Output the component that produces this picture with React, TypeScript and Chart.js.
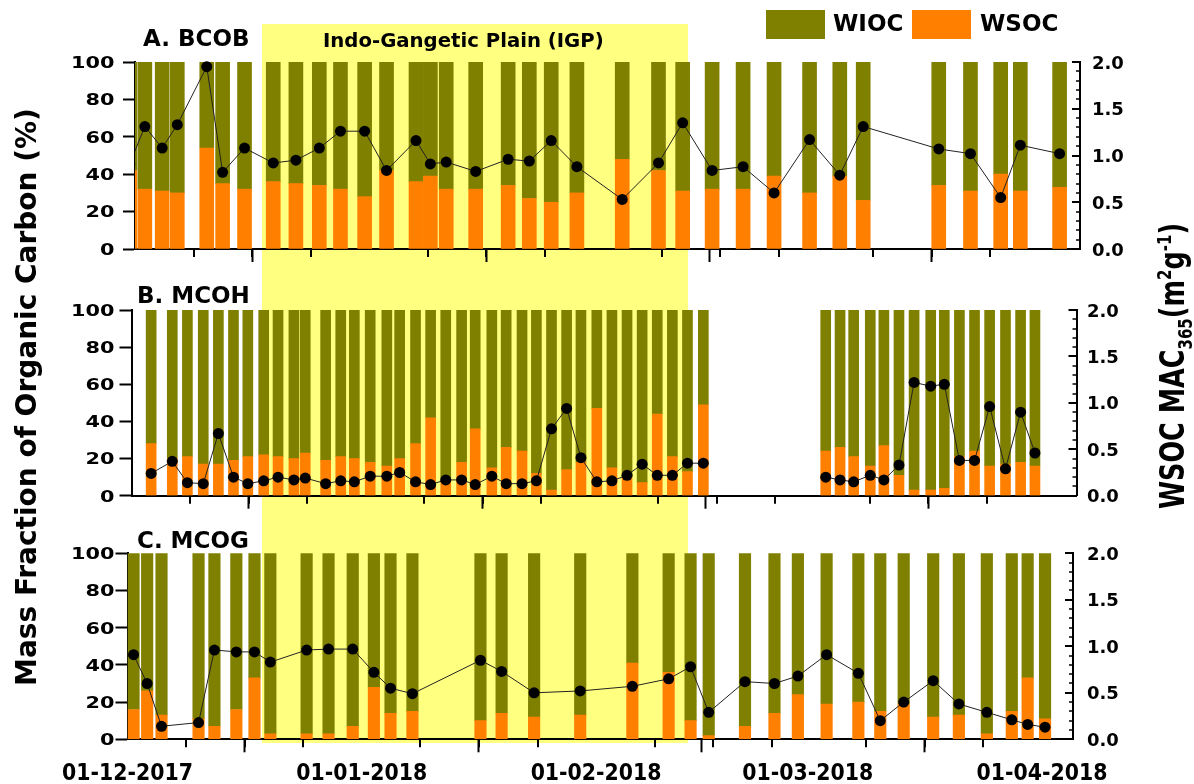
import React, { useEffect, useRef } from 'react';
import { Chart, registerables } from 'chart.js';

Chart.register(...registerables);

// ---------- tick labels / axis data ----------
const MONTH_DAYS = [0, 31, 62, 90, 121];
const MONTH_LABELS = ['01-12-2017', '01-01-2018', '01-02-2018', '01-03-2018', '01-04-2018'];
const X_MINOR_TICKS = [7.75, 15.5, 23.25, 38.75, 46.5, 54.25, 69.75, 77.5, 85.25, 97.75, 105.5, 113.25];
const X_MAX = 125.1;
const LEFT_TICKS = [0, 20, 40, 60, 80, 100];
const RIGHT_TICKS = [0, 0.5, 1.0, 1.5, 2.0];

// ---------- Panel A: BCOB (days since 01-12-2017) ----------
const A_DAY = [-0.7, 1.3, 3.6, 5.6, 9.5, 11.6, 14.5, 18.3, 21.3, 24.4, 27.2, 30.4, 33.3, 37.2, 39.1, 41.2, 45.1, 49.4, 52.2, 55.1, 58.5, 64.5, 69.3, 72.5, 76.4, 80.5, 84.6, 89.3, 93.3, 96.4, 106.4, 110.6, 114.6, 117.2, 122.4];
const A_WSOC = [42, 32, 31, 30, 54, 35, 32, 36, 35, 34, 32, 28, 42, 36, 39, 32, 32, 34, 27, 25, 30, 48, 42, 31, 32, 32, 39, 30, 39, 26, 34, 31, 40, 31, 33];
const A_WIOC = [58, 68, 69, 70, 46, 65, 68, 64, 65, 66, 68, 72, 58, 64, 61, 68, 68, 66, 73, 75, 70, 52, 58, 69, 68, 68, 61, 70, 61, 74, 66, 69, 60, 69, 67];
const A_MAC = [0.91, 1.31, 1.08, 1.33, 1.95, 0.82, 1.08, 0.92, 0.95, 1.08, 1.26, 1.26, 0.84, 1.16, 0.91, 0.93, 0.83, 0.96, 0.94, 1.16, 0.88, 0.53, 0.92, 1.35, 0.84, 0.88, 0.60, 1.17, 0.79, 1.31, 1.07, 1.02, 0.55, 1.11, 1.02];
const A_LINE_GAPS: number[] = [];

// ---------- Panel B: MCOH ----------
const B_DAY = [2.6, 5.4, 7.4, 9.5, 11.5, 13.5, 15.4, 17.5, 19.4, 21.5, 23.0, 25.7, 27.7, 29.5, 31.6, 33.8, 35.5, 37.6, 39.6, 41.6, 43.7, 45.5, 47.7, 49.6, 51.7, 53.6, 55.6, 57.6, 59.5, 61.6, 63.6, 65.6, 67.6, 69.6, 71.6, 73.6, 75.7, 91.9, 93.8, 95.6, 97.8, 99.6, 101.6, 103.6, 105.8, 107.6, 109.6, 111.6, 113.6, 115.7, 117.7, 119.6];
const B_WSOC = [28, 20, 21, 17, 17, 19, 21, 22, 21, 20, 23, 19, 21, 20, 18, 16, 20, 28, 42, 8, 18, 36, 15, 26, 24, 12, 3, 14, 18, 47, 15, 10, 7, 44, 21, 13, 49, 24, 26, 21, 16, 27, 11, 3, 3, 4, 21, 24, 16, 17, 18, 16];
const B_WIOC = [72, 80, 79, 83, 83, 81, 79, 78, 79, 80, 77, 81, 79, 80, 82, 84, 80, 72, 58, 92, 82, 64, 85, 74, 76, 88, 97, 86, 82, 53, 85, 90, 93, 56, 79, 87, 51, 76, 74, 79, 84, 73, 89, 97, 97, 96, 79, 76, 84, 83, 82, 84];
const B_MAC = [0.24, 0.37, 0.14, 0.13, 0.67, 0.20, 0.13, 0.16, 0.20, 0.17, 0.19, 0.13, 0.16, 0.15, 0.21, 0.21, 0.25, 0.15, 0.12, 0.17, 0.17, 0.12, 0.21, 0.13, 0.13, 0.16, 0.72, 0.94, 0.41, 0.15, 0.16, 0.22, 0.34, 0.22, 0.22, 0.35, 0.35, 0.20, 0.17, 0.15, 0.22, 0.17, 0.33, 1.22, 1.18, 1.20, 0.38, 0.38, 0.96, 0.29, 0.90, 0.46];
const B_LINE_GAPS = [37];

// ---------- Panel C: MCOG ----------
const C_DAY = [0.8, 2.6, 4.5, 9.4, 11.5, 14.4, 16.8, 18.9, 23.7, 26.6, 29.8, 32.6, 34.8, 37.7, 46.7, 49.5, 53.8, 59.9, 66.8, 71.6, 74.5, 76.9, 81.7, 85.6, 88.7, 92.5, 96.7, 99.6, 102.7, 106.6, 110.0, 113.7, 117.0, 119.1, 121.4];
const C_WSOC = [16, 26, 13, 11, 7, 16, 33, 3, 3, 3, 7, 28, 14, 15, 10, 14, 12, 13, 41, 36, 10, 2, 7, 14, 24, 19, 20, 15, 19, 12, 13, 3, 15, 33, 11];
const C_WIOC = [84, 74, 87, 89, 93, 84, 67, 97, 97, 97, 93, 72, 86, 85, 90, 86, 88, 87, 59, 64, 90, 98, 93, 86, 76, 81, 80, 85, 81, 88, 87, 97, 85, 67, 89];
const C_MAC = [0.91, 0.60, 0.14, 0.18, 0.96, 0.94, 0.94, 0.83, 0.96, 0.97, 0.97, 0.72, 0.55, 0.49, 0.85, 0.73, 0.50, 0.52, 0.57, 0.65, 0.78, 0.29, 0.62, 0.60, 0.68, 0.91, 0.71, 0.20, 0.40, 0.63, 0.38, 0.29, 0.21, 0.16, 0.13];
const C_LINE_GAPS: number[] = [];

// ---------- styles ----------
const OLIVE = '#808000';
const ORANGE = '#FF8000';
const YELLOW = '#FFFF80';
const FONT = "'DejaVu Sans', 'Liberation Sans', sans-serif";
const W = 1194;
const LEFT_FONT = 16;
const LEFT_STRETCH = 1.3;
const RIGHT_FONT = 18;
const X_FONT = 23;
const X_STRETCH = 0.89;

type Panel = {
  days: number[]; wsoc: number[]; wioc: number[]; mac: number[]; gaps: number[];
  left: number; right: number; canvasTop: number; canvasHeight: number;
  plotTop: number; plotBottom: number; barPx: number; showLabels: boolean;
  leftAnchor: number; rightAnchor: number;
};

const PANELS: Panel[] = [
  { days: A_DAY, wsoc: A_WSOC, wioc: A_WIOC, mac: A_MAC, gaps: A_LINE_GAPS, left: 135, right: 1080, canvasTop: 0, canvasHeight: 280, plotTop: 62, plotBottom: 249, barPx: 14, showLabels: false, leftAnchor: 114.5, rightAnchor: 1092 },
  { days: B_DAY, wsoc: B_WSOC, wioc: B_WIOC, mac: B_MAC, gaps: B_LINE_GAPS, left: 131.5, right: 1076.5, canvasTop: 280, canvasHeight: 250, plotTop: 310, plotBottom: 495.7, barPx: 10, showLabels: false, leftAnchor: 114.5, rightAnchor: 1087 },
  { days: C_DAY, wsoc: C_WSOC, wioc: C_WIOC, mac: C_MAC, gaps: C_LINE_GAPS, left: 127.5, right: 1073, canvasTop: 530, canvasHeight: 254, plotTop: 553.3, plotBottom: 739.3, barPx: 11.5, showLabels: true, leftAnchor: 114.5, rightAnchor: 1087 },
];

const tickPlugin = {
  id: 'customTicks',
  afterDraw(chart: any) {
    const ctx = chart.ctx;
    const xs = chart.scales.x;
    const y1 = chart.scales.y1;
    const a = chart.chartArea;
    ctx.save();
    ctx.strokeStyle = '#000';
    ctx.lineWidth = 2;
    for (const d of X_MINOR_TICKS) {
      const px = Math.round(xs.getPixelForValue(d));
      ctx.beginPath();
      ctx.moveTo(px, a.bottom);
      ctx.lineTo(px, a.bottom + 8);
      ctx.stroke();
    }
    for (let i = 0; i <= 20; i++) {
      const py = Math.round(y1.getPixelForValue(i / 10));
      const major = i % 5 === 0;
      ctx.lineWidth = major ? 2 : 1.5;
      ctx.beginPath();
      ctx.moveTo(a.right, py);
      ctx.lineTo(a.right - (major ? 8 : 4), py);
      ctx.stroke();
    }
    ctx.restore();
  },
};

const labelPlugin = {
  id: 'stretchLabels',
  afterDraw(chart: any, _args: any, o: any) {
    const ctx = chart.ctx;
    const a = chart.chartArea;
    const ys = chart.scales.y;
    const y1 = chart.scales.y1;
    const xs = chart.scales.x;
    const draw = (txt: string, x: number, yBase: number, size: number, sx: number, align: CanvasTextAlign) => {
      ctx.save();
      ctx.translate(x, yBase);
      ctx.scale(sx, 1);
      ctx.font = `bold ${size}px ${FONT}`;
      ctx.fillStyle = '#000';
      ctx.textAlign = align;
      ctx.textBaseline = 'alphabetic';
      ctx.fillText(txt, 0, 0);
      ctx.restore();
    };
    LEFT_TICKS.forEach((v) => draw(String(v), o.leftAnchor, ys.getPixelForValue(v) + (0.729 * LEFT_FONT) / 2, LEFT_FONT, LEFT_STRETCH, 'right'));
    RIGHT_TICKS.forEach((v) => draw(v.toFixed(1), o.rightAnchor, y1.getPixelForValue(v) + (0.729 * RIGHT_FONT) / 2, RIGHT_FONT, 1, 'left'));
    if (o.showX) {
      MONTH_DAYS.forEach((d, i) => draw(MONTH_LABELS[i], xs.getPixelForValue(d), a.bottom + 40.7, X_FONT, X_STRETCH, 'center'));
    }
  },
};

function PanelChart({ p }: { p: Panel }) {
  const ref = useRef<HTMLCanvasElement | null>(null);
  useEffect(() => {
    if (!ref.current) return;
    const bars = (vals: number[]) => p.days.map((d, i) => ({ x: d, y: vals[i] }));
    const line: { x: number; y: number | null }[] = [];
    p.days.forEach((d, i) => {
      if (p.gaps.includes(i)) line.push({ x: (p.days[i - 1] + d) / 2, y: null });
      line.push({ x: d, y: p.mac[i] });
    });
    const leftW = p.left;
    const rightW = W - p.right;
    const xH = p.canvasTop + p.canvasHeight - p.plotBottom;
    const chart = new Chart(ref.current, {
      type: 'bar',
      data: {
        datasets: [
          {
            type: 'line', label: 'WSOC MAC', data: line as any, yAxisID: 'y1', xAxisID: 'x',
            borderColor: '#222', borderWidth: 1, pointRadius: 5.5, pointHoverRadius: 5.5,
            pointBackgroundColor: '#000', pointBorderColor: '#000', pointBorderWidth: 0,
            spanGaps: false, tension: 0, order: 0, stack: 'mac',
            clip: { left: 0, top: 8, right: 8, bottom: 8 } as any,
          } as any,
          { label: 'WSOC', data: bars(p.wsoc) as any, backgroundColor: ORANGE, yAxisID: 'y', stack: 'oc', order: 1, barThickness: p.barPx, clip: 0 as any } as any,
          { label: 'WIOC', data: bars(p.wioc) as any, backgroundColor: OLIVE, yAxisID: 'y', stack: 'oc', order: 2, barThickness: p.barPx, clip: 0 as any } as any,
        ],
      },
      options: {
        responsive: false,
        animation: false,
        devicePixelRatio: 1,
        layout: { padding: { top: p.plotTop - p.canvasTop, left: 0, right: 0, bottom: 0 } },
        plugins: {
          legend: { display: false },
          tooltip: { enabled: false },
          stretchLabels: { leftAnchor: p.leftAnchor, rightAnchor: p.rightAnchor, showX: p.showLabels },
        },
        scales: {
          x: {
            type: 'linear', min: 0, max: X_MAX, stacked: true, offset: false,
            afterBuildTicks: (s: any) => { s.ticks = MONTH_DAYS.map((v) => ({ value: v })); },
            afterFit: (s: any) => { s.height = xH; },
            ticks: { display: false, autoSkip: false, maxRotation: 0, minRotation: 0 },
            grid: { drawOnChartArea: false, drawTicks: true, tickLength: 13, tickWidth: 2, tickColor: '#000' },
            border: { display: true, color: '#000', width: 2 },
          },
          y: {
            position: 'left', min: 0, max: 100, stacked: true,
            afterBuildTicks: (s: any) => { s.ticks = LEFT_TICKS.map((v) => ({ value: v })); },
            afterFit: (s: any) => { s.width = leftW; },
            ticks: { display: false },
            grid: { drawOnChartArea: false, drawTicks: true, tickLength: 12, tickWidth: 2, tickColor: '#000' },
            border: { display: true, color: '#000', width: 2 },
          },
          y1: {
            position: 'right', min: 0, max: 2, stacked: false,
            afterBuildTicks: (s: any) => { s.ticks = RIGHT_TICKS.map((v) => ({ value: v })); },
            afterFit: (s: any) => { s.width = rightW; },
            ticks: { display: false },
            grid: { drawOnChartArea: false, drawTicks: false },
            border: { display: true, color: '#000', width: 2 },
          },
        },
      } as any,
      plugins: [tickPlugin, labelPlugin],
    });
    return () => chart.destroy();
  }, [p]);
  return (
    <canvas
      ref={ref}
      width={W}
      height={p.canvasHeight}
      style={{ position: 'absolute', left: 0, top: p.canvasTop, width: W, height: p.canvasHeight }}
    />
  );
}

const textBase: React.CSSProperties = {
  position: 'absolute', fontFamily: FONT, fontWeight: 'bold', color: '#000', whiteSpace: 'nowrap',
};

export default function App() {
  return (
    <div style={{ position: 'absolute', left: 0, top: 0, width: W, height: 784, background: '#fff', overflow: 'hidden' }}>
      <div style={{ position: 'absolute', left: 262, top: 24, width: 426, height: 719, background: YELLOW }} />
      {PANELS.map((p, i) => <PanelChart key={i} p={p} />)}
      <div style={{ ...textBase, left: 143, top: 27.3, fontSize: 23, lineHeight: '23px' }}>A. BCOB</div>
      <div style={{ ...textBase, left: 137, top: 284, fontSize: 23, lineHeight: '23px' }}>B. MCOH</div>
      <div style={{ ...textBase, left: 137, top: 529, fontSize: 23, lineHeight: '23px' }}>C. MCOG</div>
      <div style={{ ...textBase, left: 323, top: 30.7, fontSize: 19.7, lineHeight: '19.7px' }}>Indo-Gangetic Plain (IGP)</div>
      <div style={{ position: 'absolute', left: 766, top: 10, width: 59, height: 29, background: OLIVE }} />
      <div style={{ ...textBase, left: 833, top: 12.3, fontSize: 23, lineHeight: '23px' }}>WIOC</div>
      <div style={{ position: 'absolute', left: 912, top: 10, width: 59, height: 29, background: ORANGE }} />
      <div style={{ ...textBase, left: 980, top: 12.3, fontSize: 23, lineHeight: '23px' }}>WSOC</div>
      <div style={{ ...textBase, left: 27 - 350, top: 397 - 20, width: 700, height: 40, lineHeight: '40px', textAlign: 'center', fontSize: 28, transform: 'rotate(-90deg)' }}>
        Mass Fraction of Organic Carbon (%)
      </div>
      <div style={{ ...textBase, left: 1172 - 200, top: 366 - 20, width: 400, height: 40, lineHeight: '40px', textAlign: 'center', fontSize: 25.5, transform: 'rotate(-90deg) scaleY(1.3)' }}>
        WSOC MAC<sub style={{ fontSize: 15, lineHeight: 0 }}>365</sub>(m<sup style={{ fontSize: 15, lineHeight: 0 }}>2</sup>g<sup style={{ fontSize: 15, lineHeight: 0 }}>-1</sup>)
      </div>
    </div>
  );
}
